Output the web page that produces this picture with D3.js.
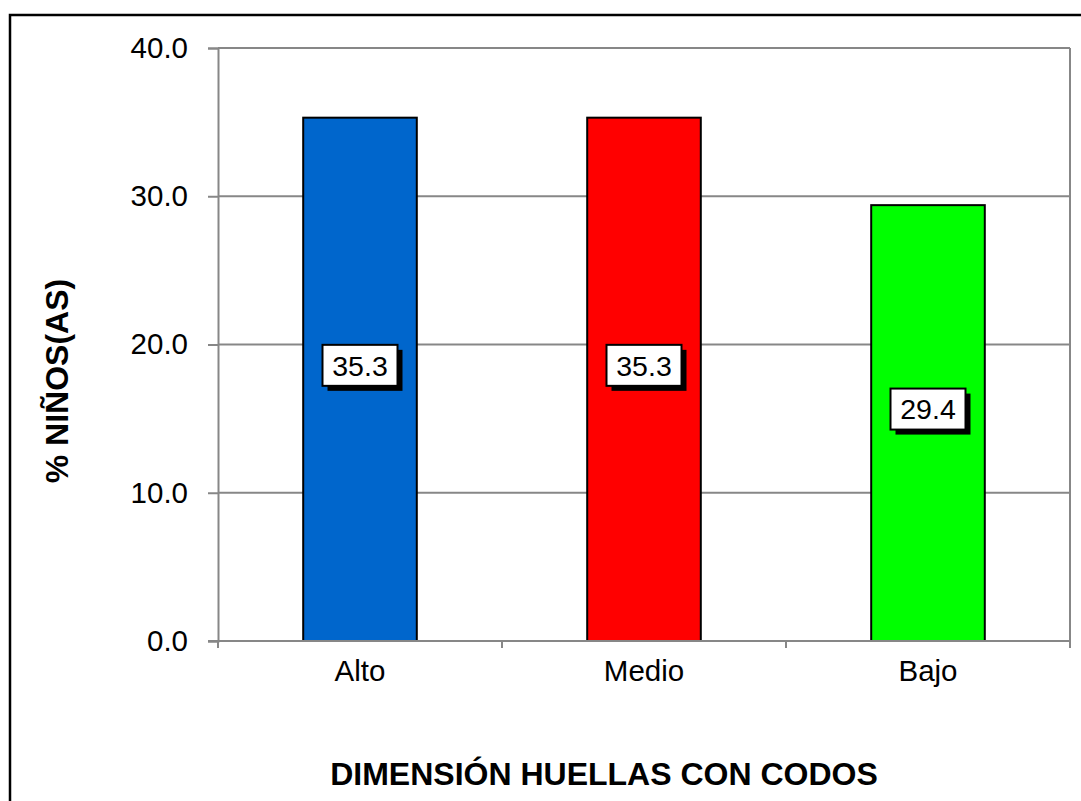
<!DOCTYPE html>
<html>
<head>
<meta charset="utf-8">
<script src="https://cdn.jsdelivr.net/npm/d3@7"></script>
<style>
  html, body { margin: 0; padding: 0; background: #fff; }
  svg { display: block; font-family: Arial, "Liberation Sans", sans-serif; }
</style>
</head>
<body>
<svg id="chart" width="1081" height="801"></svg>
<script>
// Porcentaje de niños(as) según la dimensión huellas con codos
const categories = ["Alto", "Medio", "Bajo"];
const values = [35.3, 35.3, 29.4];
const barColors = ["#0066CC", "#FF0000", "#00FF00"];
const yTicks = [0, 10, 20, 30, 40];
const yTitle = "% NIÑOS(AS)";
const xTitle = "DIMENSIÓN HUELLAS CON CODOS";

const svg = d3.select("#chart");
const W = 1081, H = 801;
const plot = { left: 218, right: 1070, top: 48, bottom: 641 };

// Chart-area frame
svg.append("rect")
  .attr("x", 10).attr("y", 15)
  .attr("width", W + 20).attr("height", H + 20)
  .attr("fill", "#fff").attr("stroke", "#000").attr("stroke-width", 2.5);

const x = d3.scaleBand().domain(categories).range([plot.left, plot.right]).paddingInner(0).paddingOuter(0);
const y = d3.scaleLinear().domain([0, 40]).range([plot.bottom, plot.top]);
const barW = x.bandwidth() * 0.4;

const grey = "#878787";

// Horizontal gridlines
svg.append("g").selectAll("line").data(yTicks.filter(d => d > 0)).join("line")
  .attr("x1", plot.left).attr("x2", plot.right)
  .attr("y1", d => y(d)).attr("y2", d => y(d))
  .attr("stroke", grey).attr("stroke-width", 2);

// Right plot border
svg.append("line")
  .attr("x1", plot.right).attr("x2", plot.right)
  .attr("y1", plot.top).attr("y2", plot.bottom)
  .attr("stroke", grey).attr("stroke-width", 2);

// Y axis
const yAxis = svg.append("g")
  .attr("transform", `translate(${plot.left},0)`)
  .call(d3.axisLeft(y).tickValues(yTicks).tickFormat(d3.format(".1f")).tickSize(10).tickPadding(20));
yAxis.select(".domain").attr("stroke", grey).attr("stroke-width", 2);
yAxis.selectAll(".tick line").attr("stroke", grey).attr("stroke-width", 2);
yAxis.selectAll(".tick text").attr("font-size", 29.5).attr("fill", "#000")
  .attr("font-family", "Arial, 'Liberation Sans', sans-serif");

// Bars
svg.append("g").selectAll("rect").data(values).join("rect")
  .attr("x", (d, i) => x(categories[i]) + (x.bandwidth() - barW) / 2)
  .attr("y", d => y(d))
  .attr("width", barW)
  .attr("height", d => y(0) - y(d))
  .attr("fill", (d, i) => barColors[i])
  .attr("stroke", "#000").attr("stroke-width", 2);

// X axis (drawn over bar bottoms)
const xAxis = svg.append("g")
  .attr("transform", `translate(0,${plot.bottom})`)
  .call(d3.axisBottom(x).tickSize(0).tickPadding(19));
xAxis.select(".domain").attr("stroke", grey).attr("stroke-width", 2)
  .attr("d", `M${plot.left - 10},0H${plot.right}`);
xAxis.selectAll(".tick text").attr("font-size", 29.5).attr("fill", "#000")
  .attr("font-family", "Arial, 'Liberation Sans', sans-serif");
// Category boundary ticks
const bounds = categories.map(c => x(c)).concat([plot.right]);
svg.append("g").selectAll("line").data(bounds).join("line")
  .attr("x1", d => d).attr("x2", d => d)
  .attr("y1", plot.bottom).attr("y2", plot.bottom + 7)
  .attr("stroke", grey).attr("stroke-width", 2);

// Value labels with drop shadow
const boxW = 75, boxH = 41;
const labels = svg.append("g").selectAll("g").data(values).join("g")
  .attr("transform", (d, i) => `translate(${x(categories[i]) + x.bandwidth() / 2},${y(d / 2) - 14})`);
labels.append("rect")
  .attr("x", -boxW / 2 + 5).attr("y", -boxH / 2 + 5)
  .attr("width", boxW).attr("height", boxH).attr("fill", "#000");
labels.append("rect")
  .attr("x", -boxW / 2).attr("y", -boxH / 2)
  .attr("width", boxW).attr("height", boxH)
  .attr("fill", "#fff").attr("stroke", "#000").attr("stroke-width", 2);
labels.append("text")
  .attr("text-anchor", "middle").attr("dy", "0.36em")
  .attr("font-size", 28.5).attr("fill", "#000")
  .text(d => d3.format(".1f")(d));

// Axis titles
svg.append("text")
  .attr("transform", `translate(68,381) rotate(-90)`)
  .attr("text-anchor", "middle")
  .attr("font-size", 32).attr("font-weight", "bold").attr("fill", "#000")
  .text(yTitle);
svg.append("text")
  .attr("x", (plot.left + plot.right) / 2 - 40).attr("y", 785)
  .attr("text-anchor", "middle")
  .attr("font-size", 32).attr("font-weight", "bold").attr("fill", "#000")
  .text(xTitle);
</script>
</body>
</html>
